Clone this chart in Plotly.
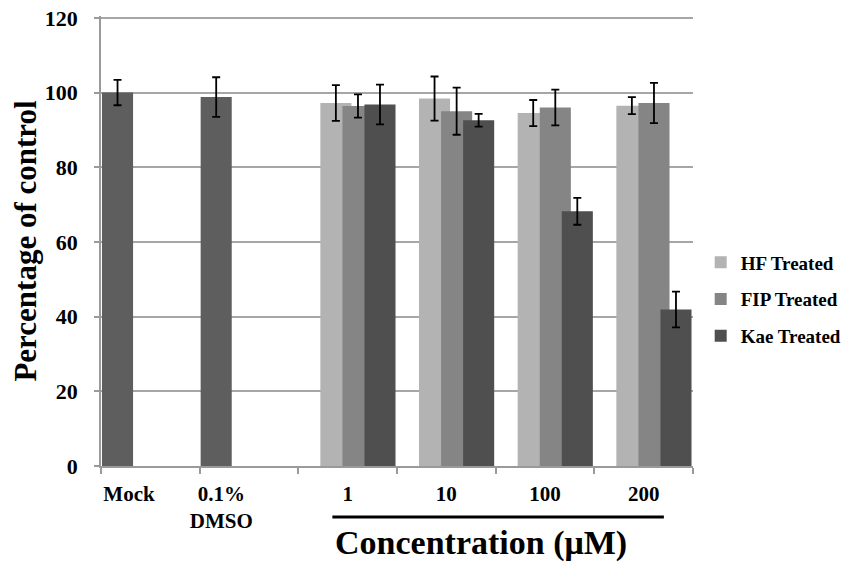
import plotly.graph_objects as go

categories = ["Mock", "0.1%<br>DMSO", "1", "10", "100", "200"]

control_values = [100.0, 98.8]
control_err = [3.4, 5.3]

hf_values = [97.2, 98.4, 94.5, 96.5]
hf_err = [4.8, 5.9, 3.5, 2.3]

fip_values = [96.4, 95.0, 96.0, 97.2]
fip_err = [3.1, 6.3, 4.8, 5.4]

kae_values = [96.8, 92.6, 68.2, 41.9]
kae_err = [5.3, 1.7, 3.6, 4.8]

series_names = ["HF Treated", "FIP Treated", "Kae Treated"]

FONT = "Liberation Serif"
BW = 0.315

ctrl_x = [i + 0.5 for i in range(2)]
conc_x = [i + 0.5 for i in range(2, 6)]

fig = go.Figure()

fig.add_trace(go.Bar(
    x=ctrl_x, y=control_values, width=BW, offset=-0.49,
    marker=dict(color="#5e5e5e", line=dict(width=0)),
    error_y=dict(type="data", array=control_err, color="black", thickness=1.8, width=4),
    showlegend=False,
))

colors = ["#b3b3b3", "#858585", "#4f4f4f"]
offsets = [-0.277, -0.053, 0.17]
for name, vals, errs, col, off in zip(series_names, [hf_values, fip_values, kae_values],
                                        [hf_err, fip_err, kae_err], colors, offsets):
    fig.add_trace(go.Bar(
        x=conc_x, y=vals, width=BW, offset=off, name=name, legendgroup=name,
        marker=dict(color=col, line=dict(width=0)),
        error_y=dict(type="data", array=errs, color="black", thickness=1.8, width=4),
    ))

label_pos = [0.284, 1.22] + conc_x

fig.update_layout(
    width=854, height=555,
    margin=dict(l=93, r=169, t=8, b=97, autoexpand=False),
    barmode="overlay",
    plot_bgcolor="white", paper_bgcolor="white",
    font=dict(family=FONT, color="black", weight="bold"),
    xaxis=dict(
        range=[0, 6], tickvals=label_pos, ticktext=categories, ticks="",
        tickfont=dict(family=FONT, size=21, weight="bold"),
        showgrid=False, showline=True, linecolor="#9a9a9a", linewidth=1.5,
        zeroline=False, automargin=False,
        minor=dict(tickvals=[0, 1, 2, 3, 4, 5, 6], ticks="outside", ticklen=6,
                   tickcolor="#9a9a9a", tickwidth=1.5, showgrid=False),
        ticklabelstandoff=8,
    ),
    yaxis=dict(
        range=[0, 120.5], tickvals=[0, 20, 40, 60, 80, 100, 120],
        tickfont=dict(family=FONT, size=22, weight="bold"),
        ticks="outside", ticklen=5, tickcolor="#9a9a9a", tickwidth=1.5,
        showgrid=True, gridcolor="#a6a6a6", gridwidth=1.5,
        showline=True, linecolor="#9a9a9a", linewidth=1.5, zeroline=False,
        ticklabelstandoff=12, automargin=False, ticklabeloverflow="allow",
        title=dict(text="Percentage of control", font=dict(family=FONT, size=31, weight="bold"),
                   standoff=14),
    ),
    legend=dict(
        x=1.013, y=0.37, xanchor="left", yanchor="middle",
        font=dict(family=FONT, size=19, weight="bold"),
        tracegroupgap=9, bgcolor="rgba(0,0,0,0)",
    ),
)

fig.add_shape(type="line", xref="x", yref="paper", x0=2.345, x1=5.705, y0=-0.1136, y1=-0.1136,
              line=dict(color="black", width=3))
fig.add_annotation(text="Concentration (μM)", xref="x", yref="paper", x=3.853, y=-0.172,
                   showarrow=False, xanchor="center", yanchor="middle",
                   font=dict(family=FONT, size=34, weight="bold", color="black"))

fig.write_html("out.html")
